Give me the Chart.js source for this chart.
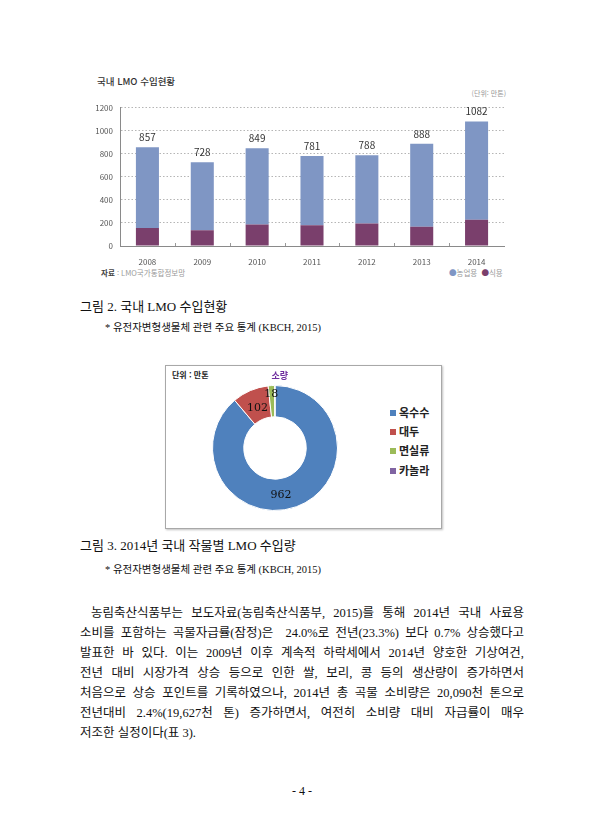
<!DOCTYPE html>
<html lang="ko">
<head>
<meta charset="utf-8">
<title>국내 LMO 수입현황</title>
<script src="https://cdn.jsdelivr.net/npm/chart.js@4.4.1/dist/chart.umd.min.js"></script>
<style>
    html, body { margin: 0; padding: 0; background: #fff; }
    body { width: 607px; height: 840px; position: relative; overflow: hidden; font-family: "Noto Sans CJK KR", sans-serif; color: #111; }
    .abs { position: absolute; white-space: nowrap; }
    .serif { font-family: "Liberation Serif", "Noto Sans CJK KR", serif; }
    #barWrap { position: absolute; left: 80px; top: 96px; width: 430px; height: 170px; }
    #pieBox { position: absolute; left: 165px; top: 365px; width: 275px; height: 162px; border: 1px solid #a8a8a8; box-shadow: 1px 1px 2px rgba(0,0,0,0.25); }
    #pieWrap { position: absolute; left: 194.5px; top: 367.8px; width: 160px; height: 160px; }
    #pieLegend { position: absolute; left: 390px; top: 404px; }
    #pieLegend div { height: 19.2px; line-height: 17px; font-size: 11px; font-weight: 700; color: #222; }
    #pieLegend span { display: inline-block; width: 6px; height: 6px; margin-right: 3px; vertical-align: 1px; }
    .line { position: absolute; left: 80px; width: 444px; height: 20px; line-height: 20px; font-size: 12.5px; text-align: justify; text-align-last: justify; white-space: nowrap; }
</style>
</head>
<body>

<!-- 그림 2 : 막대 차트 -->
<div class="abs" style="left:97px; top:74px; font-size:9.5px; font-weight:500; color:#333;">국내 LMO 수입현황</div>
<div class="abs" style="right:101px; top:88px; font-size:7px; color:#999;">(단위: 만톤)</div>
<div id="barWrap"><canvas id="lmoChart"></canvas></div>
<div class="abs" style="left:101px; top:267px; font-size:7.5px; color:#999;"><b style="color:#444;">자료</b> : LMO국가통합정보망</div>
<div class="abs" style="left:449px; top:267px; font-size:7.5px; color:#999;"><span style="color:#7f96c4;">●</span>농업용 &nbsp;<span style="color:#7a3f6c;">●</span>식용</div>

<div class="abs serif" style="left:80px; top:297px; font-size:13px; line-height:20px;">그림 2. 국내 LMO 수입현황</div>
<div class="abs serif" style="left:105px; top:320px; font-size:10.5px; line-height:16px;">* 유전자변형생물체 관련 주요 통계 (KBCH, 2015)</div>

<!-- 그림 3 : 도넛 차트 -->
<div id="pieBox"></div>
<div class="abs" style="left:172px; top:369px; font-size:8px; font-weight:700; color:#222;">단위 : 만톤</div>
<div id="pieWrap"><canvas id="cropChart"></canvas></div>
<div id="pieLegend"></div>

<div class="abs serif" style="left:80px; top:536px; font-size:13px; line-height:20px;">그림 3. 2014년 국내 작물별 LMO 수입량</div>
<div class="abs serif" style="left:105px; top:562px; font-size:10.5px; line-height:16px;">* 유전자변형생물체 관련 주요 통계 (KBCH, 2015)</div>

<!-- 본문 -->
<div class="line serif" style="top:603px; padding-left:11px; width:433px;">농림축산식품부는 보도자료(농림축산식품부, 2015)를 통해 2014년 국내 사료용</div>
<div class="line serif" style="top:623px;">소비를 포함하는 곡물자급률(잠정)은 &nbsp;24.0%로 전년(23.3%) 보다 0.7% 상승했다고</div>
<div class="line serif" style="top:643px;">발표한 바 있다. 이는 2009년 이후 계속적 하락세에서 2014년 양호한 기상여건,</div>
<div class="line serif" style="top:663px;">전년 대비 시장가격 상승 등으로 인한 쌀, 보리, 콩 등의 생산량이 증가하면서</div>
<div class="line serif" style="top:683px;">처음으로 상승 포인트를 기록하였으나, 2014년 총 곡물 소비량은 20,090천 톤으로</div>
<div class="line serif" style="top:703px;">전년대비 2.4%(19,627천 톤) 증가하면서, 여전히 소비량 대비 자급률이 매우</div>
<div class="line serif" style="top:723px; text-align:left; text-align-last:left;">저조한 실정이다(표 3).</div>

<div class="abs serif" style="left:292px; top:782px; font-size:12px; line-height:18px;">- 4 -</div>

<script>
// 국내 LMO 수입현황 (만톤)
const years = ['2008', '2009', '2010', '2011', '2012', '2013', '2014'];
const foodUse = [156, 136, 187, 181, 196, 167, 227];     // 식용
const feedUse = [701, 592, 662, 600, 592, 721, 855];     // 농업용
const yTicks = [0, 200, 400, 600, 800, 1000, 1200];

// 2014년 작물별 LMO 수입량 (만톤)
const crops = ['옥수수', '대두', '면실류', '카놀라'];
const cropAmounts = [962, 102, 18, 1];
const cropColors = ['#4f81bd', '#c0504d', '#9bbb59', '#8064a2'];

// total above each stacked bar
const totalLabels = {
    id: 'totalLabels',
    afterDatasetsDraw(chart) {
        const ctx = chart.ctx;
        const topMeta = chart.getDatasetMeta(1);
        ctx.save();
        ctx.font = '10px "Noto Sans CJK KR"';
        ctx.fillStyle = '#333';
        ctx.textAlign = 'center';
        ctx.textBaseline = 'middle';
        topMeta.data.forEach((bar, i) => {
            ctx.fillText(String(foodUse[i] + feedUse[i]), bar.x, bar.y - 10);
        });
        ctx.restore();
    }
};

// small ticks between categories, above the x axis
const categoryTicks = {
    id: 'categoryTicks',
    afterDraw(chart) {
        const x = chart.scales.x;
        const ctx = chart.ctx;
        ctx.save();
        ctx.strokeStyle = '#999';
        ctx.lineWidth = 1;
        for (let i = 1; i < years.length; i++) {
            const px = Math.round((x.getPixelForValue(i - 1) + x.getPixelForValue(i)) / 2) + 0.5;
            ctx.beginPath();
            ctx.moveTo(px, x.top);
            ctx.lineTo(px, x.top - 3);
            ctx.stroke();
        }
        ctx.restore();
    }
};

new Chart(document.getElementById('lmoChart'), {
    type: 'bar',
    data: {
        labels: years,
        datasets: [{
            label: '식용',
            data: foodUse,
            backgroundColor: '#7a3f6c',
            barPercentage: 0.42,
            categoryPercentage: 1
        }, {
            label: '농업용',
            data: feedUse,
            backgroundColor: '#7f96c4',
            barPercentage: 0.42,
            categoryPercentage: 1
        }]
    },
    options: {
        responsive: true,
        maintainAspectRatio: false,
        animation: false,
        layout: { padding: { top: 8, right: 6, left: 0, bottom: 0 } },
        plugins: { legend: { display: false }, tooltip: { enabled: false } },
        scales: {
            x: {
                stacked: true,
                grid: { display: false },
                border: { display: true, color: '#8a8a8a', width: 1 },
                ticks: { color: '#555', font: { size: 8, family: 'Noto Sans CJK KR' }, padding: 3 },
                afterFit: (s) => { s.height = 20; }
            },
            y: {
                stacked: true,
                min: 0,
                max: 1200,
                afterBuildTicks: (s) => { s.ticks = yTicks.map(v => ({ value: v })); },
                grid: { color: '#b5b5b5', drawTicks: false },
                border: { display: true, color: '#8a8a8a', width: 1, dash: [1.5, 2] },
                ticks: {
                    color: '#555',
                    font: { size: 8, family: 'Noto Sans CJK KR' },
                    padding: 7,
                    callback: (v) => String(v)
                },
                afterFit: (s) => { s.width = 40; }
            }
        }
    },
    plugins: [totalLabels, categoryTicks]
});

// value labels on the doughnut
const ringLabels = {
    id: 'ringLabels',
    afterDatasetsDraw(chart) {
        const ctx = chart.ctx;
        const meta = chart.getDatasetMeta(0);
        ctx.save();
        ctx.textAlign = 'center';
        ctx.textBaseline = 'middle';
        meta.data.forEach((arc, i) => {
            const v = cropAmounts[i];
            if (v < 5) {
                // tiny slice: "소량" outside the ring
                const mid = (arc.startAngle + arc.endAngle) / 2;
                const r = arc.outerRadius + 10;
                ctx.font = 'bold 9px "Noto Sans CJK KR"';
                ctx.fillStyle = '#7030a0';
                ctx.fillText('소량', arc.x + Math.cos(mid) * r + 5, arc.y + Math.sin(mid) * r);
                return;
            }
            const p = arc.tooltipPosition();
            const span = arc.endAngle - arc.startAngle;
            ctx.font = '11px "DejaVu Serif"';
            ctx.fillStyle = '#111';
            if (span < 0.2) {
                ctx.fillText(String(v), p.x - 1, p.y - 7);
            } else if (span > 5) {
                ctx.fillText(String(v), p.x - 10, p.y + 3);
            } else {
                ctx.fillText(String(v), p.x + 1, p.y + 3);
            }
        });
        ctx.restore();
    }
};

new Chart(document.getElementById('cropChart'), {
    type: 'doughnut',
    data: {
        labels: crops,
        datasets: [{
            data: cropAmounts,
            backgroundColor: cropColors,
            borderColor: '#fff',
            borderWidth: 1
        }]
    },
    options: {
        responsive: true,
        maintainAspectRatio: false,
        animation: false,
        cutout: '50%',
        layout: { padding: 17 },
        plugins: { legend: { display: false }, tooltip: { enabled: false } }
    },
    plugins: [ringLabels]
});

// legend for the doughnut
const legendBox = document.getElementById('pieLegend');
crops.forEach((name, i) => {
    const row = document.createElement('div');
    const mark = document.createElement('span');
    mark.style.background = cropColors[i];
    row.appendChild(mark);
    row.appendChild(document.createTextNode(name));
    legendBox.appendChild(row);
});
</script>
</body>
</html>
